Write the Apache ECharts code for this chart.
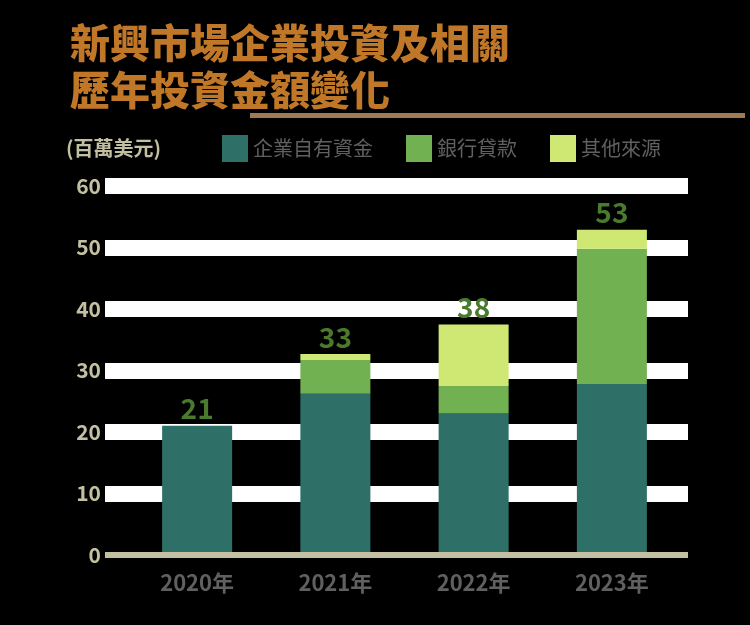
<!DOCTYPE html>
<html>
<head>
<meta charset="utf-8">
<script src="https://cdn.jsdelivr.net/npm/echarts@6/dist/echarts.min.js"></script>
<style>
html,body{margin:0;padding:0;background:#000;}
#c{width:750px;height:625px;}
</style>
</head>
<body>
<div id="c"></div>
<script>
const titleLines = ['新興市場企業投資及相關', '歷年投資金額變化'];
const unitLabel = '(百萬美元)';
const categories = ['2020年', '2021年', '2022年', '2023年'];
const seriesNames = ['企業自有資金', '銀行貸款', '其他來源'];
const ownFunds = [21, 26.2, 23.0, 27.8];
const bankLoans = [0, 5.5, 4.5, 22.0];
const otherSources = [0, 1.0, 10.0, 3.1];
const yTicks = [0, 10, 20, 30, 40, 50, 60];

const totals = categories.map((c, i) => ownFunds[i] + bankLoans[i] + otherSources[i]);
const font = '"Noto Sans CJK TC", "Noto Sans", sans-serif';
const colors = ['#2e7068', '#72b152', '#cfe874'];

const chart = echarts.init(document.getElementById('c'), null, {renderer: 'canvas'});
const gridTop = 186, gridBottom = 70;
const yMin = yTicks[0], yMax = yTicks[yTicks.length - 1], yStep = yTicks[1] - yTicks[0];

chart.setOption({
  backgroundColor: '#000',
  animation: false,
  textStyle: {fontFamily: font},
  graphic: [
    {type: 'rect', left: 250, top: 113, z: 0, shape: {width: 495, height: 5}, style: {fill: '#a07a52'}},
    {type: 'text', left: 70, top: 19, z: 10, style: {text: titleLines.join('\n'), font: '900 40px ' + font, fill: '#c07828', lineHeight: 47}},
    {type: 'text', left: 66, top: 138, style: {text: unitLabel, font: 'bold 20px ' + font, fill: '#c2c0a0'}}
  ],
  legend: {
    left: 217, top: 130,
    itemWidth: 26, itemHeight: 27, itemGap: 33,
    icon: 'rect',
    textStyle: {fontSize: 20, color: '#606060', fontFamily: font},
    data: seriesNames
  },
  grid: [
    {left: 105, right: 62, top: gridTop, bottom: gridBottom},
    {left: 128, right: 69, top: gridTop, bottom: gridBottom}
  ],
  xAxis: [
    {type: 'value', gridIndex: 0, min: 0, max: 1, z: 5,
     axisLine: {show: true, onZero: false, lineStyle: {color: '#c2c0a0', width: 6, cap: 'butt'}},
     axisTick: {show: false}, axisLabel: {show: false}, splitLine: {show: false}},
    {type: 'category', gridIndex: 1, data: categories,
     axisLine: {show: false}, axisTick: {show: false},
     axisLabel: {margin: 17, fontSize: 22, fontWeight: 'bold', color: '#606060', fontFamily: font}}
  ],
  yAxis: [
    {type: 'value', gridIndex: 0, min: yMin, max: yMax, interval: yStep,
     axisLine: {show: false}, axisTick: {show: false},
     axisLabel: {margin: 4, fontSize: 21, fontWeight: 'bold', color: '#c2c0a0', fontFamily: font},
     splitLine: {show: true, lineStyle: {width: 16, cap: 'butt', color: ['rgba(0,0,0,0)', '#ffffff', '#ffffff', '#ffffff', '#ffffff', '#ffffff', '#ffffff']}}},
    {type: 'value', gridIndex: 1, min: yMin, max: yMax, interval: yStep, show: false, splitLine: {show: false}}
  ],
  series: [
    {name: seriesNames[0], type: 'bar', stack: 't', xAxisIndex: 1, yAxisIndex: 1, barWidth: 70,
     itemStyle: {color: colors[0]}, data: ownFunds},
    {name: seriesNames[1], type: 'bar', stack: 't', xAxisIndex: 1, yAxisIndex: 1, barWidth: 70,
     itemStyle: {color: colors[1]}, data: bankLoans},
    {name: seriesNames[2], type: 'bar', stack: 't', xAxisIndex: 1, yAxisIndex: 1, barWidth: 70,
     itemStyle: {color: colors[2]}, data: otherSources,
     label: {show: true, position: 'top', distance: 3, fontSize: 28, fontWeight: 'bold', color: '#4a7a2e', fontFamily: font,
       formatter: p => Math.round(totals[p.dataIndex])}}
  ]
});
</script>
</body>
</html>
